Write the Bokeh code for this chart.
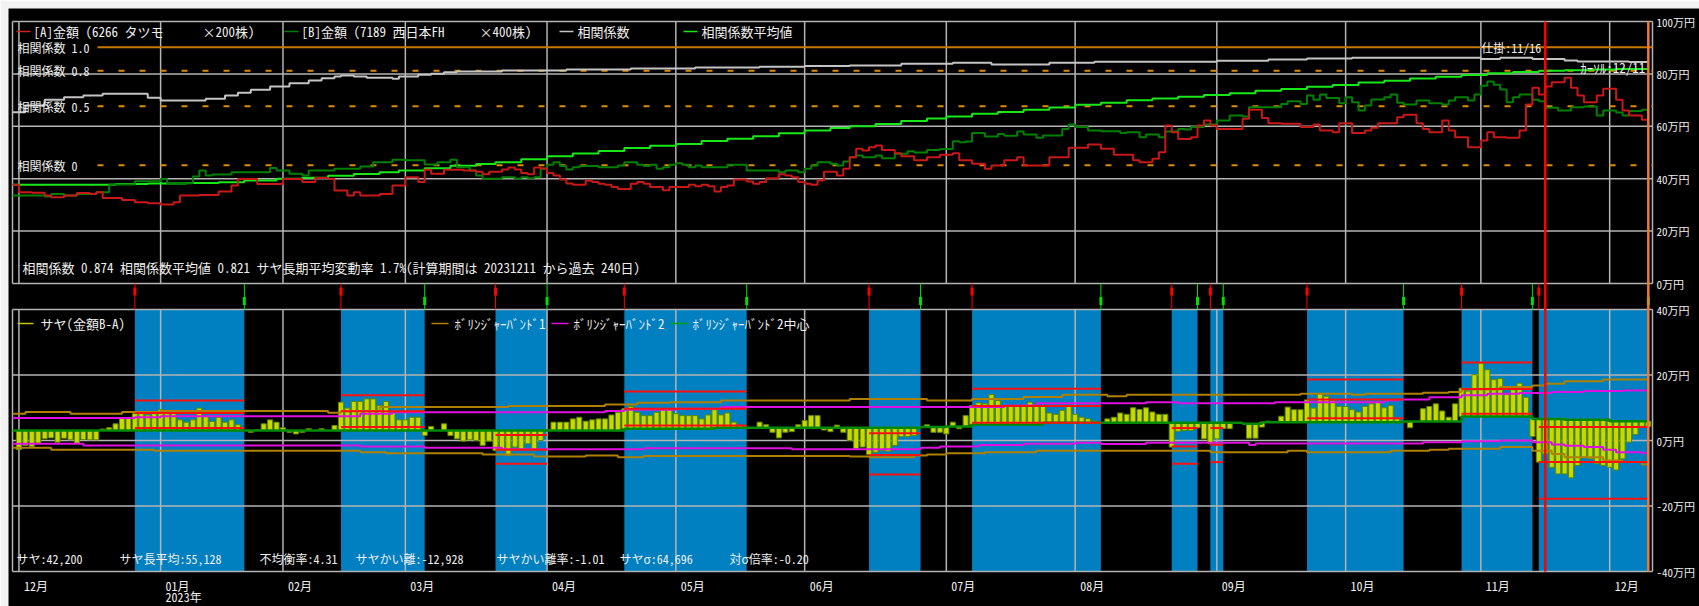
from bokeh.plotting import figure
from bokeh.models import Range1d, Label
from bokeh.embed import file_html
from bokeh.resources import INLINE

FONT = "Noto Sans Mono CJK JP"
TXT = "#EEEEEE"

# ---------------- data ----------------
# x = trading-day index (0 = 2022-12-01 ... 253 = 2023-12-11)
month_idx = [0, 22, 41, 60, 82, 102, 122, 144, 164, 186, 206, 227, 247]
month_lbl = ["12月", "01月", "02月", "03月", "04月", "05月", "06月", "07月", "08月", "09月", "10月", "11月", "12月"]
year_idx = 22
year_lbl = "2023年"

top_ticks = [100, 80, 60, 40, 20, 0]
top_tick_lbl = ["100万円", "80万円", "60万円", "40万円", "20万円", "0万円"]
bot_ticks = [40, 20, 0, -20, -40]
bot_tick_lbl = ["40万円", "20万円", "0万円", "-20万円", "-40万円"]

corr_levels = [1.0, 0.8, 0.5, 0.0]
corr_level_lbl = ["相関係数 1.0", "相関係数 0.8", "相関係数 0.5", "相関係数 0"]

# [A] 金額 (万円) step points (day, value)
a_pts = [(-1, 37.7), (0, 34.8), (2, 34.6), (4, 33.6), (5, 32.9), (7, 33.6), (9, 34.5), (11, 34.2), (12, 34.8),
         (13, 32.6), (16, 31.9), (18, 31.0), (20, 30.6), (22, 30.2), (24, 31.0), (25, 33.6), (28, 33.8), (31, 35.1),
         (33, 37.4), (34, 39.9), (37, 38.0), (41, 39.9), (44, 38.7), (46, 40.3), (48, 39.9), (49, 35.5), (51, 33.6),
         (52, 34.8), (53, 33.6), (56, 34.2), (58, 37.4), (60, 40.6), (62, 38.7), (63, 43.4), (64, 41.9), (66, 43.4),
         (69, 43.1), (71, 42.7), (72, 41.7), (73, 42.7), (75, 43.5), (76, 44.3), (77, 43.5), (78, 42.2), (79, 41.7),
         (80, 44.3), (81, 43.9), (82, 42.2), (83, 41.2), (84, 39.7), (85, 38.2), (86, 37.7), (88, 39.2), (89, 38.7),
         (90, 38.1), (91, 37.7), (92, 36.8), (93, 36.1), (95, 38.1), (96, 38.7), (97, 38.1), (98, 36.8), (100, 35.6),
         (101, 36.8), (104, 37.7), (105, 37.1), (106, 37.7), (107, 37.1), (108, 35.1), (109, 36.8), (110, 37.4),
         (111, 39.7), (113, 38.9), (114, 38.1), (115, 38.7), (116, 40.2), (118, 41.7), (119, 41.2), (120, 40.6),
         (121, 38.7), (122, 38.1), (123, 37.7), (124, 39.3), (125, 42.7), (127, 41.2), (128, 43.8), (129, 48.2),
         (130, 51.4), (131, 50.8), (132, 52.0), (133, 52.7), (134, 51.0),
         (136, 49.7), (137, 48.6), (139, 47.0), (141, 48.2), (143, 49.1), (145, 49.7), (146, 47.0), (148, 45.7),
         (150, 43.8), (151, 45.0), (153, 47.0), (155, 48.2), (156, 45.0), (160, 48.2), (163, 51.8), (166, 53.1),
         (168, 51.4), (170, 49.1), (173, 47.0), (174, 46.3), (176, 47.6), (177, 50.1), (178, 60.3), (179, 57.7),
         (180, 55.2), (182, 55.8), (183, 60.3), (184, 62.2), (185, 60.3), (186, 59.0), (190, 62.9), (191, 66.3),
         (193, 63.2), (194, 61.2), (196, 61.0), (199, 59.7), (201, 60.7), (202, 58.4), (204, 57.7), (205, 61.2),
         (207, 57.4), (209, 58.4), (210, 59.4), (211, 61.2), (214, 63.5), (215, 64.4), (217, 61.2), (218, 59.0),
         (219, 57.7), (221, 62.2), (222, 58.4), (223, 55.8), (225, 52.0), (227, 54.6), (228, 57.7), (229, 55.8),
         (231, 55.6), (233, 58.4), (234, 68.3), (235, 74.7), (236, 72.1), (237, 75.2), (238, 76.8), (240, 78.5),
         (241, 74.7), (242, 71.8), (243, 69.2), (245, 71.8), (246, 74.3), (248, 70.1), (249, 66.0), (250, 64.1),
         (252, 62.5), (253, 62.5)]

# [B] 金額 (万円)
b_pts = [(-1, 33.6), (4, 33.2), (5, 34.2), (7, 33.6), (9, 34.2), (12, 34.8), (14, 37.8), (18, 39.0), (22, 39.9),
         (23, 38.3), (27, 40.8), (28, 43.1), (29, 41.2), (30, 41.6), (33, 42.5), (39, 44.1), (40, 43.1), (42, 41.9),
         (44, 41.2), (45, 43.1), (49, 43.8), (53, 44.7), (55, 46.3), (58, 47.2), (60, 47.0), (63, 45.4), (65, 46.3),
         (67, 47.2), (68, 44.4), (70, 43.1), (71, 41.2), (72, 40.0), (75, 40.6), (77, 40.0), (78, 40.6), (79, 40.2),
         (80, 40.6), (81, 43.8), (82, 45.3), (83, 46.3), (84, 44.8), (85, 43.5), (86, 44.4), (87, 44.8), (90, 44.4),
         (93, 45.0), (94, 46.3), (96, 45.3), (97, 44.8), (98, 45.3), (99, 43.8), (100, 44.4), (101, 45.3),
         (102, 45.9), (103, 45.3), (104, 44.4), (105, 45.0), (106, 44.4), (110, 45.3), (113, 43.1), (118, 42.5),
         (119, 43.1), (121, 42.5), (122, 43.8), (123, 45.0), (124, 46.3), (126, 45.7), (127, 45.0), (128, 46.6),
         (129, 48.2), (130, 48.9), (131, 48.2), (133, 48.9), (134, 47.8), (136, 49.5), (138, 50.5), (139, 50.0),
         (141, 51.0), (143, 51.3),
         (145, 54.3), (146, 53.9), (147, 54.2), (148, 57.4), (150, 56.1), (152, 57.1), (153, 56.4), (155, 58.0),
         (156, 56.9), (158, 55.6), (159, 56.5), (162, 59.0), (163, 60.7), (164, 59.7), (166, 58.4), (168, 58.1),
         (171, 57.4), (172, 57.7), (174, 55.8), (175, 56.9), (177, 55.8), (178, 58.0), (180, 59.0), (181, 58.8),
         (182, 59.7), (184, 60.7), (186, 62.2), (188, 64.1), (190, 63.7), (191, 67.3), (196, 68.5), (197, 69.6),
         (199, 68.5), (200, 71.8), (201, 70.1), (202, 72.1), (203, 70.8), (205, 68.8), (206, 71.1), (207, 69.2),
         (208, 66.0), (209, 67.9), (210, 70.2), (212, 71.1), (213, 72.1), (214, 69.0), (215, 68.3), (217, 69.8),
         (219, 68.8), (221, 68.3), (222, 69.8), (223, 71.1), (225, 69.8), (226, 72.1), (227, 75.5), (228, 77.1),
         (229, 75.9), (230, 74.0), (231, 69.2), (232, 71.1), (233, 72.1), (235, 70.1), (236, 69.6), (237, 67.1),
         (239, 66.0), (241, 67.3), (243, 67.6), (245, 64.1), (246, 66.0), (248, 65.3), (249, 64.1), (250, 65.8),
         (252, 66.3), (253, 66.3)]

# 相関係数
corr_pts = [(-1, 0.449), (1, 0.506), (4, 0.554), (7, 0.576), (10, 0.591), (13, 0.605), (20, 0.571), (22, 0.548),
            (29, 0.563), (32, 0.591), (34, 0.613), (36, 0.639), (39, 0.667), (42, 0.695), (45, 0.718), (47, 0.737),
            (49, 0.752), (50, 0.760), (52, 0.752), (54, 0.741), (58, 0.732), (59, 0.752), (62, 0.766), (64, 0.775),
            (66, 0.788), (68, 0.794), (75, 0.803), (85, 0.812), (95, 0.820), (105, 0.828), (115, 0.835), (122, 0.840),
            (129, 0.845), (137, 0.859), (145, 0.868), (151, 0.853), (160, 0.868), (167, 0.876), (186, 0.885),
            (194, 0.895), (200, 0.905), (207, 0.910), (227, 0.899), (230, 0.910), (235, 0.899), (240, 0.887),
            (242, 0.878), (250, 0.874), (253, 0.874)]

# 相関係数平均値
cmean_pts = [(-1, -0.166), (15, -0.160), (20, -0.155), (26, -0.150), (31, -0.144), (35, -0.130), (40, -0.115),
             (44, -0.107), (48, -0.090), (52, -0.075), (56, -0.060), (59, -0.045), (63, -0.025), (67, -0.005),
             (71, 0.010), (74, 0.025), (78, 0.050), (82, 0.075), (86, 0.100), (90, 0.120), (94, 0.145), (98, 0.165),
             (102, 0.180), (106, 0.205), (110, 0.225), (114, 0.245), (118, 0.270), (122, 0.294), (126, 0.315),
             (129, 0.330), (133, 0.350), (137, 0.375), (141, 0.395), (144, 0.413), (148, 0.435), (152, 0.450),
             (156, 0.470), (160, 0.490), (164, 0.512), (168, 0.530), (172, 0.550), (176, 0.565), (180, 0.580),
             (184, 0.595), (188, 0.610), (192, 0.630), (196, 0.645), (200, 0.665), (204, 0.680), (208, 0.700),
             (212, 0.715), (216, 0.735), (220, 0.750), (224, 0.765), (228, 0.780), (232, 0.790), (236, 0.800),
             (240, 0.805), (244, 0.810), (248, 0.815), (253, 0.817)]

# サヤ (金額B-A, 万円), one value per trading day 0..253 (None = no bar)
saya = [-2.8, -1.5, -1.8, -0.8, 0.5, 0.8, -0.5, 0.7, 0.2, -0.8,
        0.3, 0.2, 0.2, 3.5, 3.9, 5.1, 6.8, 6.8, 8.2, 8.2,
        7.8, 8.2, 9.4, 8.2, 8.2, 6.3, 5.6, 6.3, 9.9, 7.3,
        5.8, 7.1, 5.6, 6.3, 4.8, None, 2.5, 3.3, 5.1, 6.3,
        5.6, 3.9, 2.5, 2.0, 2.5, 3.6, None, 3.6, None, 4.6,
        11.7, 9.9, 11.9, 11.9, 12.7, 12.7, 10.7, 11.9, 8.4, 6.3,
        6.3, 7.1, 7.1, 1.5, 4.3, None, 5.1, 1.5, 0.5, -0.2,
        0.2, 0.0, -1.5, -0.2, -3.1, -3.1, -4.6, -2.0, -2.8, -1.0,
        -3.1, 0.0, 3.3, 5.6, 5.6, 5.6, 6.6, 7.1, 5.9, 6.3,
        6.6, 6.6, 7.8, 8.6, 9.7, 10.4, 8.6, 7.6, 7.6, 8.6,
        9.4, 9.7, 8.2, 7.6, 7.6, 7.6, 6.6, 7.8, 9.4, 7.8,
        8.4, 5.6, 4.6, None, None, 5.6, 4.8, 2.5, 0.8, 2.5,
        2.7, 4.8, 6.1, 7.6, 7.6, 3.2, 2.7, 4.7, 2.5, 0.0,
        -2.5, -2.0, -4.3, -3.6, -3.1, -3.3, -1.5, 1.2, 1.2, 1.5,
        None, 4.8, 2.5, 2.5, 2.0, 5.6, 3.6, 7.6, 10.7, 11.5,
        11.2, 14.0, 12.2, 10.4, 10.4, 10.4, 10.4, 11.7, 10.4, 10.4,
        8.4, 8.0, 9.2, 10.4, 8.0, 7.1, 6.6, 5.9, None, 6.6,
        7.1, 8.4, 8.0, 10.0, 9.5, 10.0, 8.7, 8.0, 8.0, -2.0,
        2.8, 3.1, 3.1, 3.9, 0.5, -1.0, 0.5, 3.6, 3.6, None,
        None, 0.7, 0.7, 4.1, 5.9, 5.8, 7.4, 10.2, 9.4, 9.4,
        12.4, 9.9, 14.3, 13.5, 12.2, 10.4, 10.4, 9.4, 8.7, 10.4,
        11.2, 11.7, 10.0, 10.7, 6.6, None, 3.9, None, 9.7, 10.4,
        11.2, 9.0, 7.1, 11.2, 16.0, 15.1, 20.1, 23.6, 21.6, 18.6,
        18.9, 14.1, 15.5, 17.5, 13.2, 1.2, -6.6, -4.1, -8.2, -10.2,
        -10.2, -11.4, -7.6, -5.1, -5.6, -7.1, -7.6, -8.2, -9.0, -5.6,
        -0.5, 1.8, 4.3, 4.3]

# ボリンジャーバンド2中心 (サヤ長平均)
center_pts = [(-1, 3.06), (94, 3.6), (108, 3.9), (140, 4.1), (144, 4.3), (148, 4.9), (159, 5.4), (190, 5.1),
              (193, 5.6), (215, 5.8), (224, 7.3), (235, 6.6), (240, 6.3), (247, 5.9), (253, 5.9)]
bb1u_pts = [(-1, 8.2), (1, 8.7), (8, 8.2), (16, 8.7), (22, 9.0), (48, 8.5), (50, 9.0), (56, 10.2), (76, 10.5),
            (91, 11.0), (96, 11.5), (101, 11.7), (109, 12.2), (129, 12.7), (141, 12.2), (148, 12.7), (156, 13.3),
            (162, 14.0), (169, 13.5), (172, 14.0), (199, 14.3), (207, 14.0), (209, 14.3), (218, 14.6), (222, 14.8),
            (224, 15.6), (230, 16.3), (235, 16.8), (237, 17.3), (240, 18.1), (246, 18.6), (253, 18.6)]
bb1l_pts = [(-1, -2.2), (5, -2.8), (21, -3.1), (53, -3.6), (57, -3.9), (72, -4.3), (80, -4.9), (88, -4.6),
            (93, -5.1), (97, -4.7), (129, -4.9), (132, -5.1), (139, -4.6), (141, -4.3), (144, -3.9), (150, -3.6),
            (158, -3.1), (185, -3.6), (197, -3.1), (200, -3.6), (213, -3.1), (219, -2.8), (222, -2.5), (230, -2.0),
            (235, -3.1), (238, -4.1), (240, -5.1), (246, -6.1), (249, -6.6), (252, -7.3), (253, -7.3)]
bb2u_pts = [(-1, 6.9), (18, 7.1), (22, 7.4), (53, 8.2), (58, 8.6), (91, 9.0), (94, 9.4), (102, 9.7), (109, 10.2),
            (153, 10.7), (158, 11.4), (175, 11.7), (180, 11.4), (195, 11.7), (212, 12.2), (214, 12.5), (219, 13.2),
            (224, 13.8), (228, 14.3), (233, 14.5), (238, 14.8), (243, 15.1), (249, 15.3), (253, 15.3)]
bb2l_pts = [(-1, -1.0), (10, -1.5), (53, -1.8), (63, -2.2), (75, -2.7), (97, -2.4), (120, -2.7), (140, -2.2),
            (143, -1.8), (149, -1.4), (156, -1.0), (164, -0.7), (168, -1.1), (175, -0.7), (191, -1.4), (192, -0.9),
            (218, -0.5), (224, -0.2), (230, 0.0), (235, -0.5), (238, -1.2), (240, -1.6), (243, -2.0), (246, -2.8),
            (248, -3.6), (252, -3.9), (253, -3.9)]

# trade periods (signal start = red marker, end = green marker)
band_start = [18, 50, 74, 94, 132, 148, 179, 185, 200, 224, 236]
band_end = [35, 63, 82, 113, 140, 168, 183, 187, 215, 235, 253]
lvl_hi = [12.2, 13.8, 1.7, 15.0, 2.2, 15.8, 3.8, 3.8, 18.6, 23.8, 4.1]
lvl_mid = [8.4, 8.9, -2.8, 9.7, -4.4, 10.5, -1.8, -1.3, 12.5, 15.7, -6.6]
lvl_lo = [3.8, 4.1, -7.1, 4.6, -10.4, 5.4, -7.1, -6.6, 6.8, 8.2, -17.8]

entry_day, entry_lbl = 237, "仕掛:11/16"
cursor_day, cursor_lbl = 253, "ｶｰｿﾙ:12/11"

stat_top = "相関係数 0.874 相関係数平均値 0.821 サヤ長期平均変動率 1.7%(計算期間は 20231211 から過去 240日)"
stats_bottom = ["サヤ:42,200", "サヤ長平均:55,128", "不均衡率:4.31", "サヤかい離:-12,928",
                "サヤかい離率:-1.01", "サヤσ:64,696", "対σ倍率:-0.20"]

# ---------------- layout geometry (page pixels) ----------------
W, H = 1699, 606
FX0, FY0 = 8, 8                   # white window edge (left / top)
PL, PR = 12, 1652                 # panel left / right edge
TOP_T, TOP_B = 21, 283            # top panel
BOT_T, BOT_B = 309, 571           # lower panel
X0, X1 = -1.0, 253.65             # day index at PL / PR
S = (X1 - X0) / (PR - PL)         # days per pixel
XL = X0 - PL * S
TPX = (TOP_B - TOP_T) / 100.0     # px per 万円 (top)
BPX = (BOT_B - BOT_T) / 80.0      # px per 万円 (lower)
CPX, C1_Y = 118.0, 46.7           # px per correlation unit, page y of 相関係数 1.0


def dx(px):   # page x -> day index
    return XL + px * S


def ty(py):   # page y -> top-panel value
    return 100 + (TOP_T - py) / TPX


p = figure(width=W, height=H, output_backend="svg", toolbar_location=None,
           x_range=Range1d(dx(FX0), dx(W)), y_range=Range1d(ty(H), ty(FY0)),
           x_axis_location=None, y_axis_location=None,
           min_border_left=FX0, min_border_right=0, min_border_top=FY0, min_border_bottom=0,
           background_fill_color="black", border_fill_color="#F2F2F2", outline_line_color=None)
p.extra_y_ranges = {
    "bot": Range1d(40 - (H - BOT_T) / BPX, 40 + (BOT_T - FY0) / BPX),
    "corr": Range1d(1 - (H - C1_Y) / CPX, 1 + (C1_Y - FY0) / CPX),
}
p.grid.visible = False

GRID = "#B4B4B4"
BLUE = "#0080C0"

# ---- lower panel background bands
p.quad(left=band_start, right=band_end, bottom=-40, top=40, y_range_name="bot",
       fill_color=BLUE, line_color=None)

# ---- grids / panel frames
nt, nb, n = len(top_ticks), len(bot_ticks), len(month_idx)
p.segment(x0=[X0] * nt, x1=[X1] * nt, y0=top_ticks, y1=top_ticks, line_color=GRID, line_width=1.5)
p.segment(x0=[X0] * nb, x1=[X1] * nb, y0=bot_ticks, y1=bot_ticks, line_color=GRID, line_width=1.5,
          y_range_name="bot")
p.segment(x0=month_idx, x1=month_idx, y0=[0] * n, y1=[100] * n, line_color=GRID, line_width=1.5)
p.segment(x0=month_idx, x1=month_idx, y0=[-40] * n, y1=[40] * n, line_color=GRID, line_width=1.5,
          y_range_name="bot")
p.segment(x0=[X0, X1], x1=[X0, X1], y0=[0, 0], y1=[100, 100], line_color=GRID, line_width=1.5)
p.segment(x0=[X0, X1], x1=[X0, X1], y0=[-40, -40], y1=[40, 40], line_color=GRID, line_width=1.5,
          y_range_name="bot")

# ---- top panel: correlation level lines
lx = dx(97)
p.segment(x0=[lx], x1=[X1], y0=[corr_levels[0]], y1=[corr_levels[0]], y_range_name="corr",
          line_color="#C87800", line_width=2)
p.segment(x0=[lx] * 3, x1=[X1] * 3, y0=corr_levels[1:], y1=corr_levels[1:], y_range_name="corr",
          line_color="#E08A00", line_width=2, line_dash="6 15")


def unzip(pts):
    return [q[0] for q in pts], [q[1] for q in pts]


x, y = unzip(corr_pts)
p.step(x=x, y=y, mode="after", y_range_name="corr", line_color="#C4C4C4", line_width=2)
x, y = unzip(cmean_pts)
p.step(x=x, y=y, mode="after", y_range_name="corr", line_color="#18E818", line_width=2)
x, y = unzip(b_pts)
p.step(x=x, y=y, mode="after", line_color="#008000", line_width=2)
x, y = unzip(a_pts)
p.step(x=x, y=y, mode="after", line_color="#C81818", line_width=2)

# ---- lower panel: bars (from center line to サヤ)
cx, cy = unzip(center_pts)


def center_at(d):
    v = cy[0]
    for k in range(len(cx)):
        if cx[k] <= d:
            v = cy[k]
    return v


bx, btop, bbot = [], [], []
for d, v in enumerate(saya):
    if v is not None:
        bx.append(d)
        btop.append(v)
        bbot.append(center_at(d))
p.vbar(x=bx, top=btop, bottom=bbot, width=0.78, y_range_name="bot",
       fill_color="#C8D800", line_color="#5C8A00", line_width=1)

for pts, col in [(bb1u_pts, "#B08000"), (bb1l_pts, "#B08000"), (bb2u_pts, "#E010E0"), (bb2l_pts, "#E010E0")]:
    x, y = unzip(pts)
    p.step(x=x, y=y, mode="after", y_range_name="bot", line_color=col, line_width=2)
p.step(x=cx, y=cy, mode="after", y_range_name="bot", line_color="#008A00", line_width=2.5)

for lv in (lvl_hi, lvl_mid, lvl_lo):
    p.segment(x0=band_start, x1=band_end, y0=lv, y1=lv, y_range_name="bot", line_color="#FF1010", line_width=2)

# ---- signal markers strip (between the panels)
m = len(band_start)
p.segment(x0=band_start, x1=band_start, y0=[ty(TOP_B)] * m, y1=[ty(BOT_T)] * m, line_color="#FF0000", line_width=1)
p.rect(x=band_start, y=[ty(291)] * m, width=3, height=8, width_units="screen", height_units="screen",
       fill_color="#FF0000", line_color=None)
p.segment(x0=band_end, x1=band_end, y0=[ty(TOP_B)] * m, y1=[ty(BOT_T)] * m, line_color="#00E000", line_width=1)
p.rect(x=band_end, y=[ty(300.5)] * m, width=3, height=8, width_units="screen", height_units="screen",
       fill_color="#00E000", line_color=None)

# entry / cursor vertical lines
p.segment(x0=[entry_day], x1=[entry_day], y0=[100], y1=[ty(BOT_B)], line_color="#FF0000", line_width=2.5)
p.segment(x0=[cursor_day], x1=[cursor_day], y0=[100], y1=[ty(BOT_B)], line_color="#F07830", line_width=2.5)


# ---- texts
def label(x, y, text, size=13, align="left", yr="default", x_off=0, color=TXT):
    p.add_layout(Label(x=x, y=y, text=text, text_color=color, text_font=FONT, text_font_size=f"{size}px",
                       text_align=align, text_baseline="middle", y_range_name=yr, x_offset=x_off))


def key(px0, px1, yv, color):
    p.segment(x0=[dx(px0)], x1=[dx(px1)], y0=[yv], y1=[yv], line_color=color, line_width=1.5)


ly = ty(31)
key(16, 30, ly, "#D02020"); label(dx(33), ly, "[A]金額 (6266 タツモ"); label(dx(202), ly, "×200株)")
key(284, 298, ly, "#008000"); label(dx(301), ly, "[B]金額 (7189 西日本FH"); label(dx(479), ly, "×400株)")
key(559, 573, ly, "#C4C4C4"); label(dx(577), ly, "相関係数")
key(683, 697, ly, "#18E818"); label(dx(701), ly, "相関係数平均値")

ly2 = ty(323)
key(17, 33, ly2, "#C8C800"); label(dx(40), ly2, "サヤ(金額B-A)")
key(431, 448, ly2, "#B08000"); label(dx(454), ly2, "ﾎﾞﾘﾝｼﾞｬｰﾊﾞﾝﾄﾞ1")
key(551, 568, ly2, "#E010E0"); label(dx(573), ly2, "ﾎﾞﾘﾝｼﾞｬｰﾊﾞﾝﾄﾞ2")
key(670, 687, ly2, "#00A000"); label(dx(692), ly2, "ﾎﾞﾘﾝｼﾞｬｰﾊﾞﾝﾄﾞ2中心")

for lvl, txt in zip(corr_levels, corr_level_lbl):
    label(dx(17), lvl, txt, size=12, yr="corr")

label(dx(22), ty(267), stat_top)

stat_x = [16, 119, 259, 355, 496, 619, 729]
for sx, txt in zip(stat_x, stats_bottom):
    label(dx(sx), ty(558), txt, size=12)

label(entry_day, 1.0, entry_lbl, size=12, align="right", yr="corr", x_off=-4)
label(cursor_day, 0.83, cursor_lbl, size=13, align="right", yr="corr", x_off=-3)

# right-hand scale labels
for v, txt in zip(top_ticks, top_tick_lbl):
    label(dx(1656), v, txt, size=11)
for v, txt in zip(bot_ticks, bot_tick_lbl):
    label(dx(1656), v, txt, size=11, yr="bot")

# month labels
for d, txt in zip(month_idx, month_lbl):
    label(d, ty(585), txt, size=12, x_off=5)
label(year_idx, ty(596), year_lbl, size=12, x_off=5)

open("out.html", "w").write(file_html(p, INLINE))
